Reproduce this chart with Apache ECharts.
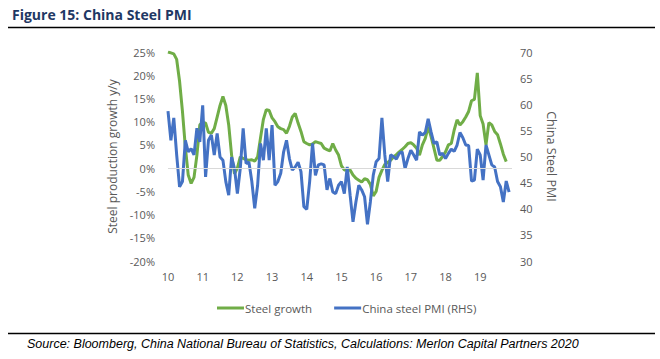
<!DOCTYPE html>
<html>
<head>
<meta charset="utf-8">
<script src="https://cdn.jsdelivr.net/npm/echarts@6/dist/echarts.min.js"></script>
<style>
html,body{margin:0;padding:0;background:#fff;}
#chart{width:660px;height:359px;}
</style>
</head>
<body>
<div id="chart"></div>
<script>
// Year tick labels (January of each year, month index = (year-10)*12)
var yearLabels = ['10','11','12','13','14','15','16','17','18','19'];
// Steel production growth y/y (%), monthly from Jan 2010
var steelGrowth = [
 25.0,24.8,24.6,23.4,18.7,12.2,4.5,-1.5,-3.3,-2.0,2.8,9.3,
 9.9,9.7,7.7,7.5,8.5,11.0,13.5,15.4,13.5,9.3,2.8,-1.2,
 0.0,2.4,2.1,1.8,1.7,1.8,1.5,2.4,6.5,10.5,12.6,12.4,
 10.8,10.0,8.9,8.5,8.3,7.5,9.0,11.0,11.8,9.7,7.9,5.7,
 5.3,5.0,5.2,5.7,5.5,5.3,4.3,4.0,3.7,5.3,3.9,2.8,
 0.5,-0.4,-0.4,-0.4,-1.5,-2.2,-2.6,-3.0,-2.3,-2.5,-3.5,-6.0,
 -5.0,-2.0,-0.5,0.8,1.2,1.7,2.4,2.9,3.5,4.0,4.6,5.3,
 5.5,5.0,4.3,2.8,5.0,6.4,8.9,6.8,4.3,1.7,1.7,2.5,
 3.5,5.0,5.3,8.2,10.4,9.3,10.0,11.0,12.2,14.5,14.8,20.5,
 11.3,9.5,5.0,9.8,9.3,7.9,7.2,5.2,3.0,1.4
];
// China steel PMI (RHS), monthly from Jan 2010
var steelPMI = [
 58.7,53.1,57.4,50.3,44.2,45.2,53.1,50.9,51.5,50.3,55.4,52.8,
 59.8,46.1,53.1,54.1,50.3,54.4,49.9,49.3,45.2,42.6,49.9,47.7,
 42.9,47.7,55.4,48.7,48.9,45.2,40.1,44.5,52.5,49.3,55.4,49.3,
 56.0,44.5,45.2,46.8,50.9,53.1,49.6,47.4,48.0,48.9,47.1,40.4,
 39.9,45.2,52.5,46.4,48.4,48.6,48.4,43.6,45.8,43.2,42.9,44.5,
 45.2,42.9,48.0,42.6,37.5,41.3,44.5,43.6,42.3,37.0,41.3,46.4,
 49.0,49.6,57.4,50.3,45.2,50.3,50.0,49.5,50.6,50.9,47.7,49.6,
 51.2,50.3,49.3,54.7,54.1,54.6,57.2,54.7,52.5,52.8,50.3,50.6,
 49.6,50.6,51.4,51.0,52.2,54.6,53.6,52.2,52.1,45.3,45.5,51.4,
 50.3,45.5,52.2,50.3,48.4,48.0,45.2,44.2,41.3,45.3,43.2
];
var leftTicks = {min:-20, max:25, interval:5};
var rightTicks = {min:30, max:70, interval:5};

function toPairs(arr){ return arr.map(function(v,i){ return [i, v]; }); }

var FONT = 'Open Sans';
var GREY = '#595959';
var chart = echarts.init(document.getElementById('chart'), null, {renderer:'svg'});
chart.setOption({
  animation:false,
  backgroundColor:'#fff',
  textStyle:{fontFamily:FONT},
  grid:{left:168, right:148, top:52, height:209},
  graphic:[
    {type:'text', left:12, top:7, style:{text:'Figure 15: China Steel PMI', fontFamily:FONT, fontWeight:'bold', fontSize:14, fill:'#1f3864'}},
    {type:'line', shape:{x1:8, y1:27.5, x2:655, y2:27.5}, style:{stroke:'#000', lineWidth:1.5}},
    {type:'line', shape:{x1:8, y1:333.5, x2:655, y2:333.5}, style:{stroke:'#000', lineWidth:1.5}},
    {type:'text', left:27, top:337, style:{text:'Source: Bloomberg, China National Bureau of Statistics, Calculations: Merlon Capital Partners 2020', fontFamily:'Liberation Sans', fontStyle:'italic', fontSize:12.5, fill:'#000'}}
  ],
  legend:{
    left:212, top:297, itemGap:22, itemWidth:27, itemHeight:3, icon:'rect',
    textStyle:{color:GREY, fontSize:11.5, fontFamily:FONT, padding:[0,0,0,-4]},
    data:['Steel growth','China steel PMI (RHS)']
  },
  xAxis:{
    type:'value', min:0, max:119, interval:12,
    axisLine:{show:false}, axisTick:{show:false}, splitLine:{show:false},
    axisLabel:{color:GREY, fontSize:11, margin:10, showMaxLabel:false,
      formatter:function(v){ var k=Math.round(v/12); return yearLabels[k]!==undefined ? yearLabels[k] : ''; }}
  },
  yAxis:[
    {type:'value', min:leftTicks.min, max:leftTicks.max, interval:leftTicks.interval,
     name:'Steel production growth y/y', nameLocation:'middle', nameGap:44, nameRotate:90,
     nameTextStyle:{color:GREY, fontSize:12},
     axisLine:{show:false}, axisTick:{show:false}, splitLine:{show:false},
     axisLabel:{color:GREY, fontSize:11, margin:13, formatter:'{value}%'}},
    {type:'value', min:rightTicks.min, max:rightTicks.max, interval:rightTicks.interval, position:'right',
     name:'China Steel PMI', nameLocation:'middle', nameGap:33, nameRotate:-90,
     nameTextStyle:{color:GREY, fontSize:12.5},
     axisLine:{show:false}, axisTick:{show:false}, splitLine:{show:false},
     axisLabel:{color:GREY, fontSize:11, margin:8}}
  ],
  series:[
    {name:'Steel growth', type:'line', yAxisIndex:0, data:toPairs(steelGrowth),
     showSymbol:false, symbol:'none', lineStyle:{color:'#70ad47', width:3}, itemStyle:{color:'#70ad47'},
     z:3,
     markLine:{silent:true, symbol:'none', label:{show:false}, lineStyle:{color:'#d9d9d9', width:1, type:'solid'}, data:[{yAxis:0}]}},
    {name:'China steel PMI (RHS)', type:'line', yAxisIndex:1, data:toPairs(steelPMI),
     showSymbol:false, symbol:'none', lineStyle:{color:'#4472c4', width:3}, itemStyle:{color:'#4472c4'}, z:4}
  ]
});
</script>
</body>
</html>
